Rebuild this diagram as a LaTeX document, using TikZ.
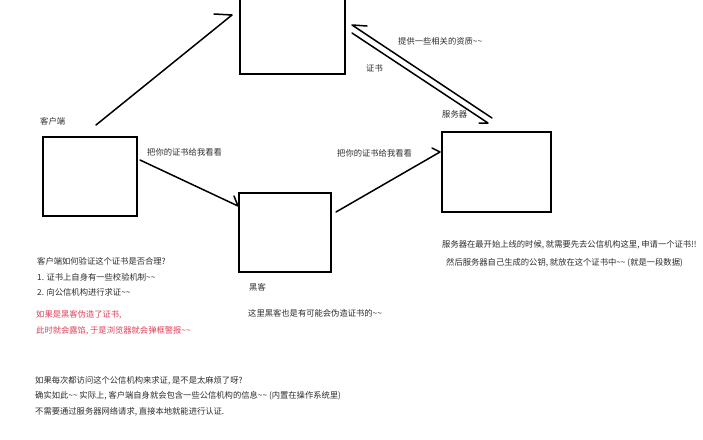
\documentclass[tikz,border=0pt]{standalone}
\usepackage{fontspec}
\setmainfont{Noto Sans CJK SC}
\usetikzlibrary{calc}
\definecolor{txt}{RGB}{45,45,45}
\definecolor{warn}{RGB}{222,64,88}
\begin{document}
\begin{tikzpicture}[x=1pt,y=-1pt,
  box/.style={draw=black, line width=1.5pt, inner sep=0pt},
  link/.style={draw=black, line width=1.5pt, line cap=round, line join=round},
  lbl/.style={anchor=west, inner sep=0pt, text=txt, font=\fontsize{8.3}{10}\selectfont},
  redlbl/.style={lbl, text=warn}]
\useasboundingbox (0,0) rectangle (703,439);
\clip (0,0) rectangle (703,439);
\fill[white] (0,0) rectangle (703,439);
% boxes
\node[box, minimum width=94pt, minimum height=79pt] (client) at (90,176.5) {};
\node[box, minimum width=92pt, minimum height=79pt] (hacker) at (285,232.5) {};
\node[box, minimum width=109pt, minimum height=80pt] (server) at (496.5,172) {};
\node[box, minimum width=105pt, minimum height=90pt] (ca) at (292.5,29) {};
% connector ends
\coordinate (c1s) at (96,125); \coordinate (c1t) at (232,15); \coordinate (c1b) at (214,14);
\coordinate (c2s) at (140,160); \coordinate (c2t) at (238,206); \coordinate (c2b) at (234,196);
\coordinate (c3s) at (336,212); \coordinate (c3t) at (440,152); \coordinate (c3b) at (432,148);
\coordinate (c4s) at (492,118); \coordinate (c4t) at (352,25); \coordinate (c4b) at (367,26);
\coordinate (c5s) at (352,33); \coordinate (c5t) at (488,123); \coordinate (c5b) at (479,123);
\draw[link] (c1s) -- (c1t) -- (c1b);
\draw[link] (c2s) -- (c2t) -- (c2b);
\draw[link] (c3s) -- (c3t) -- (c3b);
\draw[link] (c4s) -- (c4t) -- (c4b);
\draw[link] (c5s) -- (c5t) -- (c5b);
% labels
\node[lbl] (lclient) at (40,121) {客户端};
\node[lbl] (lask1) at (147,152) {把你的证书给我看看};
\node[lbl] (lask2) at (337,153) {把你的证书给我看看};
\node[lbl] (lqual) at (398,41) {提供一些相关的资质\textasciitilde\textasciitilde};
\node[lbl] (lcert) at (366,68) {证书};
\node[lbl] (lserver) at (442,114) {服务器};
\node[lbl] (lhacker) at (249,287) {黑客};
\node[lbl] (lhack2) at (248,313) {这里黑客也是有可能会伪造证书的\textasciitilde\textasciitilde};
\node[lbl] (q1) at (37,261) {客户端如何验证这个证书是否合理?};
\node[lbl] (q2) at (37,277) {1. 证书上自身有一些校验机制\textasciitilde\textasciitilde};
\node[lbl] (q3) at (37,292) {2. 向公信机构进行求证\textasciitilde\textasciitilde};
\node[redlbl] (r1) at (36,315) {如果是黑客伪造了证书,};
\node[redlbl] (r2) at (36,331) {此时就会露馅, 于是浏览器就会弹框警报\textasciitilde\textasciitilde};
\node[lbl] (s1) at (442,245) {服务器在最开始上线的时候, 就需要先去公信机构这里, 申请一个证书!!};
\node[lbl] (s2) at (446,263) {然后服务器自己生成的公钥, 就放在这个证书中\textasciitilde\textasciitilde{} (就是一段数据)};
\node[lbl] (b1) at (35,381) {如果每次都访问这个公信机构来求证, 是不是太麻烦了呀?};
\node[lbl] (b2) at (35,396) {确实如此\textasciitilde\textasciitilde{} 实际上, 客户端自身就会包含一些公信机构的信息\textasciitilde\textasciitilde{} (内置在操作系统里)};
\node[lbl] (b3) at (35,412) {不需要通过服务器网络请求, 直接本地就能进行认证.};
\end{tikzpicture}
\end{document}
